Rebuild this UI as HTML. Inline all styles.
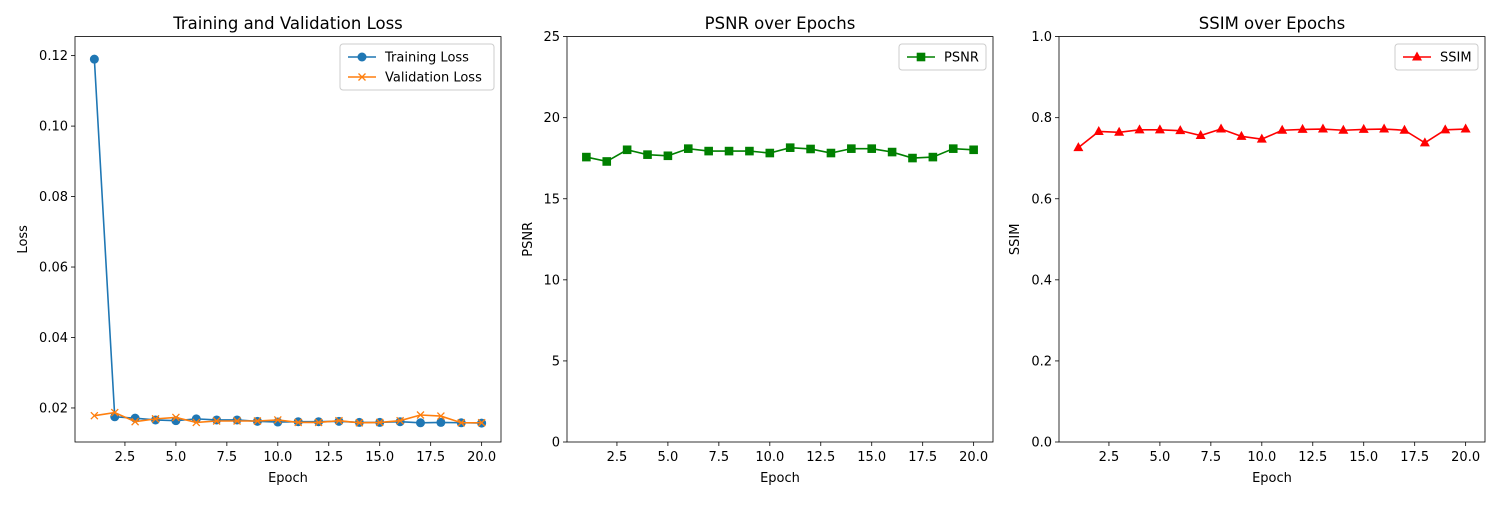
<!DOCTYPE html>
<html><head><meta charset="utf-8"><style>
body{margin:0;background:#fff}
svg{font-family:"DejaVu Sans","Liberation Sans",sans-serif}
</style></head><body>
<svg id="fig" width="1500" height="500" xmlns="http://www.w3.org/2000/svg"></svg>
<script>
const epochs=[1,2,3,4,5,6,7,8,9,10,11,12,13,14,15,16,17,18,19,20];
const trainLoss=[0.119,0.0175,0.0171,0.0166,0.0164,0.0169,0.0166,0.0166,0.0162,0.0160,0.0161,0.0161,0.0162,0.0159,0.0159,0.0161,0.0158,0.0159,0.0158,0.0157];
const valLoss=[0.0178,0.0187,0.0161,0.0169,0.0173,0.0159,0.0163,0.0163,0.0163,0.0166,0.0159,0.0159,0.0164,0.0158,0.0159,0.0164,0.0180,0.0177,0.0158,0.0158];
const psnr=[17.57,17.3,18.02,17.72,17.65,18.09,17.94,17.94,17.94,17.82,18.15,18.07,17.82,18.09,18.09,17.88,17.51,17.57,18.09,18.02];
const ssim=[0.726,0.766,0.764,0.770,0.770,0.768,0.756,0.772,0.754,0.747,0.769,0.771,0.772,0.769,0.771,0.772,0.769,0.738,0.770,0.772];
const xTicks=[2.5,5.0,7.5,10.0,12.5,15.0,17.5,20.0];
const lossTicks=[0.02,0.04,0.06,0.08,0.10,0.12];
const psnrTicks=[0,5,10,15,20,25];
const ssimTicks=[0,0.2,0.4,0.6,0.8,1.0];

const NS="http://www.w3.org/2000/svg";
const svg=document.getElementById('fig');
function mk(tag,attrs,parent){const e=document.createElementNS(NS,tag);for(const k in attrs)e.setAttribute(k,attrs[k]);(parent||svg).appendChild(e);return e;}
const T=36.6,B=442;
function panel(o){
  const g=mk('g',{});
  
  
  const x=v=>o.x0+(v-0.05)/(20.95-0.05)*(o.x1-o.x0);
  const y=v=>B-(v-o.ymin)/(o.ymax-o.ymin)*(B-T);
  xTicks.forEach(t=>{
    const px=x(t);
    mk('line',{x1:px,x2:px,y1:B,y2:B+4,stroke:'#000','stroke-width':0.8},g);
    const tx=mk('text',{x:px,y:B+19,'font-size':13,'text-anchor':'middle'},g);tx.textContent=t.toFixed(1);
    
    
  });
  o.yticks.forEach(t=>{
    const py=y(t);
    mk('line',{x1:o.x0-4,x2:o.x0,y1:py,y2:py,stroke:'#000','stroke-width':0.8},g);
    const tx=mk('text',{x:o.x0-7,y:py+4.5,'font-size':13,'text-anchor':'end'},g);tx.textContent=o.fmt(t);
    
    
  });
  const xl=mk('text',{x:(o.x0+o.x1)/2,y:482,'font-size':13,'text-anchor':'middle'},g);xl.textContent='Epoch';
  
  
  const yx=o.ylx;
  const yl=mk('text',{x:yx,y:(T+B)/2,'font-size':13,'text-anchor':'middle',transform:`rotate(-90 ${yx} ${(T+B)/2})`},g);yl.textContent=o.ylabel;
  
  
  const ti=mk('text',{x:(o.x0+o.x1)/2,y:29,'font-size':16.5,'text-anchor':'middle'},g);ti.textContent=o.title;
  
  
  o.series.forEach(s=>{
    const pts=epochs.map((e,i)=>x(e)+','+y(s.data[i])).join(' ');
    const pl=mk('polyline',{points:pts,fill:'none',stroke:s.color,'stroke-width':1.6},g);
    
    
    epochs.forEach((e,i)=>{
      const m=marker(s.marker,x(e),y(s.data[i]),s.color,g);
      
      
    });
  });
  mk('rect',{x:o.x0,y:T,width:o.x1-o.x0,height:B-T,fill:'none',stroke:'#000','stroke-width':0.8},g);
  // legend
  const lw=o.legW,lh=o.series.length*20+6,lx=o.x1-7-lw,ly=44;
  const lg=mk('g',{},g);
  
  
  mk('rect',{x:lx,y:ly,width:lw,height:lh,rx:3,fill:'#fff','fill-opacity':0.8,stroke:'#ccc'},lg);
  o.series.forEach((s,i)=>{
    const cy=ly+13+i*20;
    const e=mk('g',{},lg);
    
    
    mk('line',{x1:lx+8,x2:lx+36,y1:cy,y2:cy,stroke:s.color,'stroke-width':1.6},e);
    marker(s.marker,lx+22,cy,s.color,e);
    const t=mk('text',{x:lx+45,y:cy+4.5,'font-size':13},e);t.textContent=s.label;
  });
}
function marker(type,cx,cy,c,p){
  if(type==='o')return mk('circle',{cx,cy,r:4.5,fill:c},p);
  if(type==='s')return mk('rect',{x:cx-4.3,y:cy-4.3,width:8.6,height:8.6,fill:c},p);
  if(type==='^')return mk('polygon',{points:`${cx},${cy-5.5} ${cx-5},${cy+3.5} ${cx+5},${cy+3.5}`,fill:c},p);
  return mk('path',{d:`M${cx-3.5},${cy-3.5}L${cx+3.5},${cy+3.5}M${cx-3.5},${cy+3.5}L${cx+3.5},${cy-3.5}`,stroke:c,'stroke-width':1.3},p);
}
panel({name:'loss',x0:75,x1:501,ymin:0.01034,ymax:0.12540,yticks:lossTicks,fmt:v=>v.toFixed(2),ylabel:'Loss',ylx:27,title:'Training and Validation Loss',legW:154,
  series:[{name:'training-loss',label:'Training Loss',data:trainLoss,color:'#1f77b4',marker:'o'},{name:'validation-loss',label:'Validation Loss',data:valLoss,color:'#ff7f0e',marker:'x'}]});
panel({name:'psnr',x0:567,x1:993,ymin:0,ymax:25,yticks:psnrTicks,fmt:v=>String(v),ylabel:'PSNR',ylx:532,title:'PSNR over Epochs',legW:87,
  series:[{name:'psnr',label:'PSNR',data:psnr,color:'#008000',marker:'s'}]});
panel({name:'ssim',x0:1059,x1:1485,ymin:0,ymax:1,yticks:ssimTicks,fmt:v=>v.toFixed(1),ylabel:'SSIM',ylx:1019,title:'SSIM over Epochs',legW:83,
  series:[{name:'ssim',label:'SSIM',data:ssim,color:'#ff0000',marker:'^'}]});
</script>
</body></html>
